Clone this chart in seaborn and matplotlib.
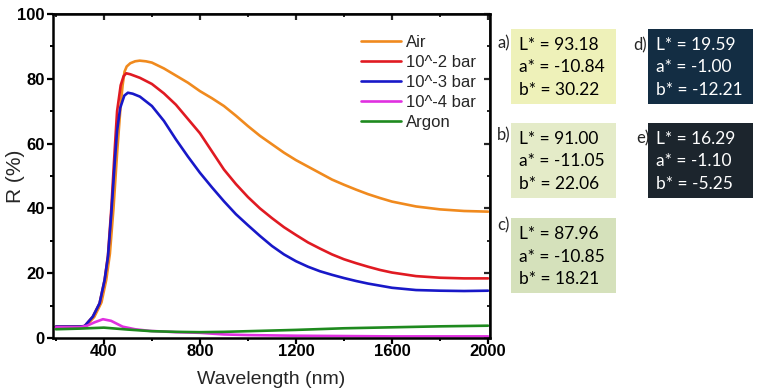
import pandas as pd
import numpy as np
import matplotlib
matplotlib.use("Agg")
import matplotlib.pyplot as plt
from matplotlib.patches import Rectangle
from matplotlib.ticker import MultipleLocator
import seaborn as sns

# reflectance spectra (wavelength nm, R %)
wl_air = [200, 300, 325, 360, 390, 410, 425, 440, 455, 470, 478, 486, 495, 510, 530, 549, 575, 600, 650, 700,
          750, 800, 850, 900, 950, 1000, 1050, 1100, 1150, 1200, 1250, 1300, 1350, 1400, 1450, 1500,
          1550, 1600, 1700, 1800, 1900, 2000]
r_air = [3.4, 3.4, 3.6, 6.5, 11.0, 18.0, 26.0, 40.0, 57.0, 72.0, 78.0, 82.2, 83.8, 84.8, 85.4, 85.6, 85.4, 85.0, 83.2, 81.0,
         78.8, 76.2, 74.0, 71.6, 68.6, 65.4, 62.4, 59.8, 57.2, 54.9, 52.9, 50.9, 48.9, 47.3, 45.8, 44.4,
         43.2, 42.1, 40.6, 39.7, 39.2, 39.0]

wl_e2 = [200, 300, 320, 354, 382, 403, 417, 431, 445, 455, 470, 482, 493, 510, 550, 600, 650, 700, 750, 800,
         850, 900, 950, 1000, 1050, 1100, 1150, 1200, 1250, 1300, 1350, 1400, 1450, 1500, 1550, 1600,
         1700, 1800, 1900, 2000]
r_e2 = [3.5, 3.5, 3.7, 6.6, 10.7, 17.9, 25.5, 40.0, 58.0, 70.0, 78.0, 80.8, 81.7, 81.4, 80.3, 78.4, 75.5, 72.0, 67.6, 63.2,
        57.6, 52.0, 47.5, 43.5, 40.0, 37.0, 34.2, 31.8, 29.5, 27.6, 25.8, 24.3, 23.1, 22.0, 21.0, 20.2,
        19.1, 18.6, 18.4, 18.4]

wl_e3 = [200, 300, 320, 354, 382, 403, 417, 431, 445, 455, 468, 485, 500, 520, 550, 600, 650, 700, 750, 800,
         850, 900, 950, 1000, 1050, 1100, 1150, 1200, 1250, 1300, 1350, 1400, 1450, 1500, 1600,
         1700, 1800, 1900, 2000]
r_e3 = [3.5, 3.5, 3.7, 6.6, 10.7, 17.9, 25.1, 38.5, 54.0, 64.0, 71.0, 74.8, 75.7, 75.4, 74.5, 71.6, 67.0, 61.3, 56.0, 51.0,
        46.5, 42.2, 38.2, 34.8, 31.5, 28.4, 25.8, 23.7, 22.0, 20.6, 19.5, 18.5, 17.6, 16.8, 15.5,
        14.8, 14.6, 14.5, 14.6]

wl_e4 = [200, 300, 330, 360, 396, 430, 478, 530, 590, 700, 800, 900, 1000, 1200, 1400, 1600, 1800, 2000]
r_e4 = [3.3, 3.3, 3.8, 4.8, 5.8, 5.3, 3.5, 2.7, 2.2, 1.8, 1.6, 1.1, 0.9, 0.7, 0.6, 0.5, 0.5, 0.5]

wl_ar = [200, 300, 400, 500, 600, 700, 800, 900, 1000, 1200, 1400, 1600, 1800, 2000]
r_ar = [2.7, 2.9, 3.2, 2.6, 2.1, 1.9, 1.8, 1.9, 2.1, 2.5, 3.0, 3.3, 3.6, 3.8]

labels = ["Air", "10^-2 bar", "10^-3 bar", "10^-4 bar", "Argon"]
colors = ["#F08A1E", "#E01A22", "#1818C8", "#E030E0", "#1E8A1E"]

# CIELab values of the samples a)-e)
panel = ["a)", "b)", "c)", "d)", "e)"]
L_star = ["93.18", "91.00", "87.96", "19.59", "16.29"]
a_star = ["-10.84", "-11.05", "-10.85", "-1.00", "-1.10"]
b_star = ["30.22", "22.06", "18.21", "-12.21", "-5.25"]
box_col = ["#EEF1B9", "#E4EBC8", "#D5E1BB", "#132D43", "#1C252D"]
txt_col = ["black", "black", "black", "white", "white"]

frames = []
for lab, w, r in zip(labels, [wl_air, wl_e2, wl_e3, wl_e4, wl_ar], [r_air, r_e2, r_e3, r_e4, r_ar]):
    frames.append(pd.DataFrame({"wl": w, "R": r, "sample": lab}))
df = pd.concat(frames, ignore_index=True)

sns.set_theme(style="ticks")
plt.rcParams["font.family"] = ["Liberation Sans", "DejaVu Sans"]

W, H = 758, 392
fig = plt.figure(figsize=(W / 100, H / 100), dpi=100)
ax = fig.add_axes([52.5 / W, 1 - 338 / H, 437 / W, 324 / H])

sns.lineplot(data=df, x="wl", y="R", hue="sample", hue_order=labels,
             palette=dict(zip(labels, colors)), linewidth=1.9, sort=False, ax=ax)

ax.set_xlim(186, 2006)
ax.set_ylim(0, 100)
ax.xaxis.set_major_locator(MultipleLocator(400))
ax.xaxis.set_minor_locator(MultipleLocator(200))
ax.yaxis.set_major_locator(MultipleLocator(20))
ax.yaxis.set_minor_locator(MultipleLocator(10))
for s in ax.spines.values():
    s.set_linewidth(1.8)
    s.set_color("black")
ax.tick_params(which="major", direction="out", length=4, width=1.6, pad=1.5, colors="black")
ax.tick_params(which="minor", direction="out", length=2.5, width=1.4, colors="black")
ax.tick_params(axis="x", which="major", pad=0.5)
for t in ax.get_xticklabels() + ax.get_yticklabels():
    t.set_fontweight("bold")
    t.set_fontsize(12)

# mirrored ticks pointing inward on top and right
sx = ax.secondary_xaxis("top")
sx.xaxis.set_major_locator(MultipleLocator(400))
sx.xaxis.set_minor_locator(MultipleLocator(200))
sx.tick_params(which="major", direction="in", length=4, width=1.6, labeltop=False)
sx.tick_params(which="minor", direction="in", length=2.5, width=1.4)
sy = ax.secondary_yaxis("right")
sy.yaxis.set_major_locator(MultipleLocator(20))
sy.yaxis.set_minor_locator(MultipleLocator(10))
sy.tick_params(which="major", direction="in", length=4, width=1.6, labelright=False)
sy.tick_params(which="minor", direction="in", length=2.5, width=1.4)

ax.set_xlabel("Wavelength (nm)", fontsize=14)
ax.set_ylabel("R (%)", fontsize=15)
ax.xaxis.set_label_coords(0.5, -0.103)
ax.yaxis.set_label_coords(-0.063, 0.5)

leg = ax.legend(loc="upper left", bbox_to_anchor=(0.69, 0.955), frameon=False, fontsize=12,
                handlelength=2.4, handletextpad=0.3, labelspacing=0.3, borderaxespad=0)
for h in leg.get_lines():
    h.set_linewidth(1.9)

# colour boxes with the L*a*b* values
box_x = [511, 511, 511, 648, 648]
box_y = [29, 123, 218, 29, 123]
lab_x = [497, 497, 497, 633, 636]
lab_y = [43, 135, 225, 45, 138]
for i in range(len(panel)):
    x0, y0 = box_x[i], box_y[i]
    fig.add_artist(Rectangle((x0 / W, 1 - (y0 + 75) / H), 105 / W, 75 / H,
                             transform=fig.transFigure, facecolor=box_col[i], edgecolor="none"))
    fig.text(lab_x[i] / W, 1 - lab_y[i] / H, panel[i], fontsize=12, va="center", ha="left",
             family=["Lato", "DejaVu Sans"])
    lines = ["L* = " + L_star[i], "a* = " + a_star[i], "b* = " + b_star[i]]
    for j, s in enumerate(lines):
        fig.text((x0 + 8) / W, 1 - (y0 + 16 + 22.5 * j) / H, s, fontsize=12.5, va="center", ha="left",
                 color=txt_col[i], family=["Lato", "DejaVu Sans"])

fig.savefig("out.png", dpi=100)
